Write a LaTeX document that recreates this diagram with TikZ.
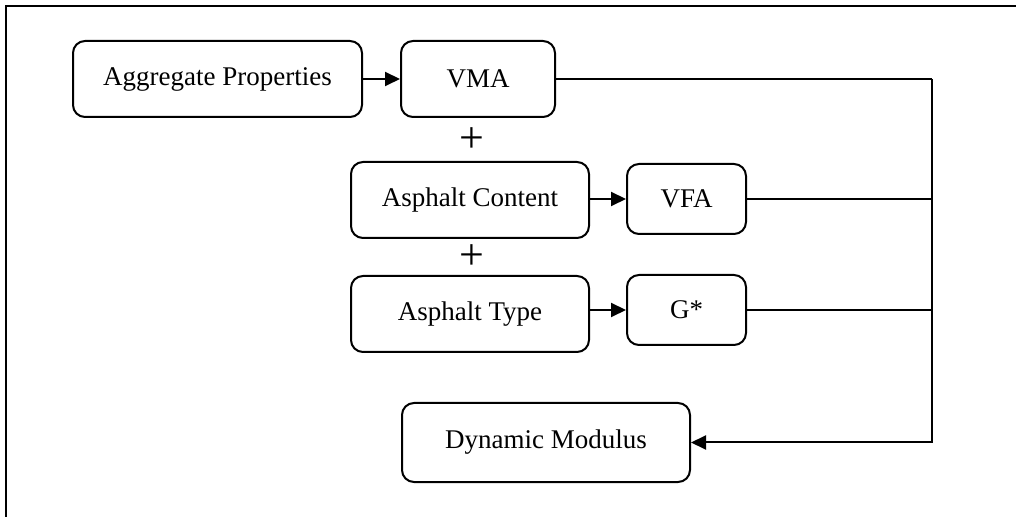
\documentclass[tikz,border=0pt]{standalone}
\usepackage{fontspec}
\setmainfont{Liberation Serif}
\usetikzlibrary{arrows.meta,positioning}

\begin{document}
\begin{tikzpicture}[x=0.5pt,y=-0.5pt,>={Triangle[length=7.5pt,width=7pt]},
					line width=1pt,align=center,
					box/.style={draw,rounded corners=6pt,font=\fontsize{13.5}{16}\selectfont,
					            minimum height=38pt,inner sep=0pt},
					plus/.style={font=\fontsize{22}{22}\selectfont,inner sep=0pt}]

					\useasboundingbox (0,0) rectangle (1016,517);
					\draw (6,517) -- (6,6) -- (1016,6);

					\node[box,minimum width=144.5pt] (agg) at (217.5,79) {Aggregate Properties};
					\node[box,minimum width=77pt] (vma) at (478,79) {VMA};
					\node[plus] (plus1) at (472,140) {+};
					\node[box,minimum width=119pt] (content) at (470,200) {Asphalt Content};
					\node[box,minimum width=59.5pt,minimum height=35pt] (vfa) at (686.5,199) {VFA};
					\node[plus] (plus2) at (472,257) {+};
					\node[box,minimum width=119pt] (type) at (470,314) {Asphalt Type};
					\node[box,minimum width=59.5pt,minimum height=35pt] (gstar) at (686.5,310) {G*};
					\node[box,minimum width=144pt,minimum height=39.5pt] (dyn) at (546,442.5) {Dynamic Modulus};

					\coordinate (bustop) at (932,79);

					\draw[->] (agg) -- (vma);
					\draw[->] (vfa.west -| content.east) -- (vfa.west);
					\draw[->] (gstar.west -| type.east) -- (gstar.west);
					\draw (vma) -- (bustop);
					\draw (vfa.east) -- (vfa.east -| bustop);
					\draw (gstar.east) -- (gstar.east -| bustop);
					\draw[->] (bustop) |- (dyn.east);

				\end{tikzpicture}
\end{document}
